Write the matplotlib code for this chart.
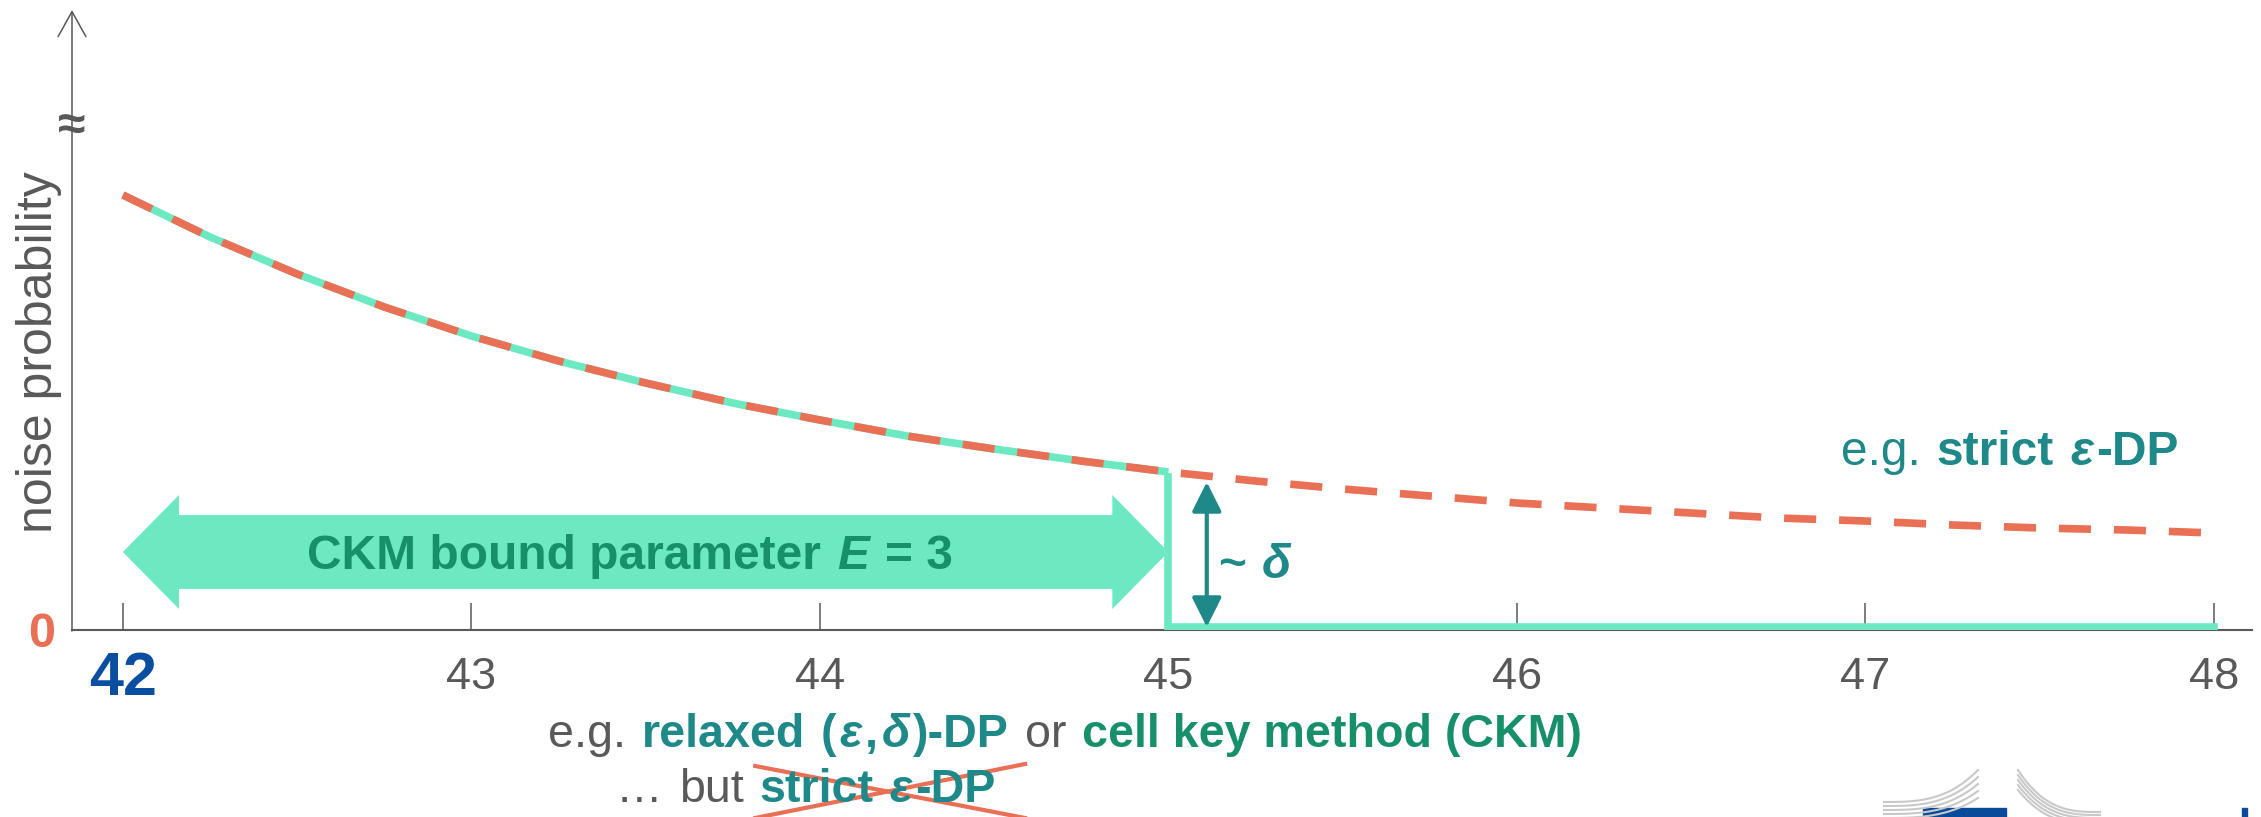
import numpy as np
import matplotlib
matplotlib.use('Agg')
import matplotlib.pyplot as plt
import matplotlib.patches as mpatches
import matplotlib.transforms as mtransforms

# canvas size in pixels
W, H = 2261, 817
DPI = 100

# colours
GRAY = '#595959'
TEAL = '#1f8888'
GREEN_DARK = '#17906a'
MINT = '#6ce9c1'
ORANGE = '#e96f55'
BLUE = '#0a4ea2'
FONT = ['Liberation Sans', 'DejaVu Sans']
FS = 34

# data
x_vals = [42.0, 42.25, 42.5, 42.75, 43.0, 43.25, 43.5, 43.75, 44.0, 44.25, 44.5, 44.75,
          45.0, 45.25, 45.5, 45.75, 46.0, 46.25, 46.5, 46.75, 47.0, 47.25, 47.5, 47.75, 48.0]
noise_prob = [0.435, 0.393, 0.356, 0.323, 0.294, 0.269, 0.247, 0.227, 0.210, 0.194, 0.181, 0.169,
              0.158, 0.149, 0.141, 0.134, 0.127, 0.122, 0.117, 0.112, 0.109, 0.105, 0.102, 0.100, 0.097]
ckm_bound = 45
step_x = [45, 45, 48]
step_y = [0.153, 0.003, 0.003]
delta_x = 45.11
delta_top = 0.148
tick_vals = [42, 43, 44, 45, 46, 47, 48]
tick_labels = ['42', '43', '44', '45', '46', '47', '48']

IDENT = mtransforms.IdentityTransform()

fig = plt.figure(figsize=(W / DPI, H / DPI), dpi=DPI)
fig.patch.set_facecolor('white')
ax = fig.add_axes([72 / W, (H - 630) / H, (2252 - 72) / W, 620 / H])
ax.set_xlim(41.854, 48.109)
ax.set_ylim(0, 0.62)
ax.patch.set_alpha(0)

# axis styling
for s in ['top', 'right', 'left']:
    ax.spines[s].set_visible(False)
ax.spines['bottom'].set_color(GRAY)
ax.spines['bottom'].set_linewidth(1.5)
ax.set_yticks([])
ax.set_xticks(tick_vals)
ax.set_xticklabels([])
ax.tick_params(axis='x', direction='in', length=19.5, width=1.1, color=GRAY)

# y axis drawn as an arrow
ax.annotate('', xy=(72, H - 10), xytext=(72, H - 631), xycoords='figure pixels',
            arrowprops=dict(arrowstyle='->,head_length=0.9,head_width=0.5', color=GRAY,
                            lw=1.1, shrinkA=0, shrinkB=0, mutation_scale=20))
fig.text(72, H - 127, '\u2248', ha='center', va='center', fontsize=36, fontweight='bold',
         color=GRAY, family=FONT, transform=IDENT)

# curves
x_arr = np.array(x_vals)
y_arr = np.array(noise_prob)
keep = x_arr <= ckm_bound
ax.plot(x_arr[keep], y_arr[keep], color=MINT, lw=5.5, solid_capstyle='butt', zorder=3)
ax.plot(x_arr, y_arr, color=ORANGE, lw=5.5, ls=(0, (4.2, 3.0)), dash_capstyle='butt', zorder=4)
ax.plot(step_x, step_y, color=MINT, lw=5.5, solid_joinstyle='miter', zorder=3)

# big double arrow for the CKM bound
arr_y = 0.078
mid = (x_vals[0] + ckm_bound) / 2
for start, tip in [(mid + 0.1, x_vals[0]), (mid - 0.1, ckm_bound)]:
    ax.add_patch(mpatches.FancyArrow(start, arr_y, tip - start, 0, width=0.074, head_width=0.114,
                                     head_length=0.161, length_includes_head=True,
                                     color=MINT, lw=0, zorder=3))

# delta arrow
ax.annotate('', xy=(delta_x, delta_top), xytext=(delta_x, 0.003),
            arrowprops=dict(arrowstyle='<|-|>,head_length=0.9,head_width=0.45', color=TEAL,
                            lw=3, shrinkA=0, shrinkB=0, mutation_scale=20), zorder=5)

# tick labels
for v, lab in zip(tick_vals, tick_labels):
    if v == tick_vals[0]:
        ax.annotate(lab, xy=(v, 0), xytext=(0, -65 * 72 / DPI), textcoords='offset points',
                    ha='center', va='baseline', fontsize=44, fontweight='bold', color=BLUE,
                    family=FONT, annotation_clip=False)
    else:
        ax.annotate(lab, xy=(v, 0), xytext=(0, -59 * 72 / DPI), textcoords='offset points',
                    ha='center', va='baseline', fontsize=32.5, color=GRAY, family=FONT,
                    annotation_clip=False)

fig.text(42, H - 647, '0', ha='center', va='baseline', fontsize=35, fontweight='bold',
         color=ORANGE, family=FONT, transform=IDENT)
fig.text(39, H - 352, 'noise probability', rotation=90, ha='center', va='center',
         fontsize=36, color=GRAY, family=FONT, transform=IDENT)

renderer = fig.canvas.get_renderer()


def pieces_text(px, py, pieces, ha='left', size=FS, family=FONT):
    # put coloured / styled pieces one after another on a common baseline
    space = 0.34 * size * DPI / 72
    join = 0.07 * size * DPI / 72
    made = []
    x = 0
    prev_word = False
    for s, color, weight, style in pieces:
        if s == ' ':
            x += space
            prev_word = False
            continue
        if prev_word:
            x += join
        t = fig.text(0, H - py, s, color=color, fontsize=size, fontweight=weight,
                     fontstyle=style, va='baseline', ha='left', family=family, transform=IDENT)
        made.append((t, x))
        x += t.get_window_extent(renderer).width
        prev_word = True
    shift = {'left': 0, 'center': -x / 2, 'right': -x}[ha]
    for t, off in made:
        t.set_x(px + shift + off)
    return [t for t, _ in made]


B, N = 'bold', 'normal'
I, U = 'italic', 'normal'
SP = (' ', 0, 0, 0)

pieces_text(630, 569, [('CKM bound parameter', GREEN_DARK, B, U), SP,
                       ('E', GREEN_DARK, B, I), SP, ('= 3', GREEN_DARK, B, U)],
            ha='center', size=34.5)
pieces_text(1218, 578, [('~', TEAL, B, U), SP, ('\u03b4', TEAL, B, I)], size=34.5)
pieces_text(2179, 465, [('e.g.', TEAL, N, U), SP, ('strict', TEAL, B, U), SP,
                        ('\u03b5', TEAL, B, I), ('-DP', TEAL, B, U)], ha='right', size=34.5)
pieces_text(548, 747, [('e.g.', GRAY, N, U), SP, ('relaxed', TEAL, B, U), SP,
                       ('(', TEAL, B, U), ('\u03b5', TEAL, B, I), (',', TEAL, B, U),
                       ('\u03b4', TEAL, B, I), (')-DP', TEAL, B, U), SP,
                       ('or', GRAY, N, U), SP, ('cell key method (CKM)', GREEN_DARK, B, U)],
            size=33.6)
line2 = pieces_text(616, 802, [('\u2026', GRAY, N, U), SP, ('but', GRAY, N, U), SP,
                               ('strict', TEAL, B, U), SP,
                               ('\u03b5', TEAL, B, I), ('-DP', TEAL, B, U)], size=33.6)

# cross out "strict e-DP"
bb0 = line2[2].get_window_extent(renderer)
bb1 = line2[-1].get_window_extent(renderer)
x0, x1 = bb0.x0 - 4, bb1.x1 + 30
y_base = H - 802
fig.add_artist(plt.Line2D([x0, x1], [y_base - 16, y_base + 38], color=ORANGE, lw=3, transform=IDENT))
fig.add_artist(plt.Line2D([x0, x1], [y_base + 36, y_base - 16], color=ORANGE, lw=3, transform=IDENT))

# partial logo in the bottom right corner
t = np.linspace(0, 1, 30)
for i in range(5):
    xs = 1884 + 94 * t
    ys = (802 + 4 * i) - (32 - 3 * i) * t ** 3
    fig.add_artist(plt.Line2D(xs, H - ys, color='#c8c8c8', lw=1.5, transform=IDENT))
    xs = 2018 + 82 * t
    ys = (770 + 5 * i) + (42 - 2 * i) * (1 - (1 - t) ** 3)
    fig.add_artist(plt.Line2D(xs, H - ys, color='#c8c8c8', lw=1.5, transform=IDENT))
fig.add_artist(mpatches.Rectangle((1923, 0), 83, H - 808, color='#0a4a9a', transform=IDENT))
fig.add_artist(mpatches.Rectangle((2242, 0), 5, H - 808, color='#0a4a9a', transform=IDENT))

fig.savefig('out.png', dpi=DPI, facecolor='white')
